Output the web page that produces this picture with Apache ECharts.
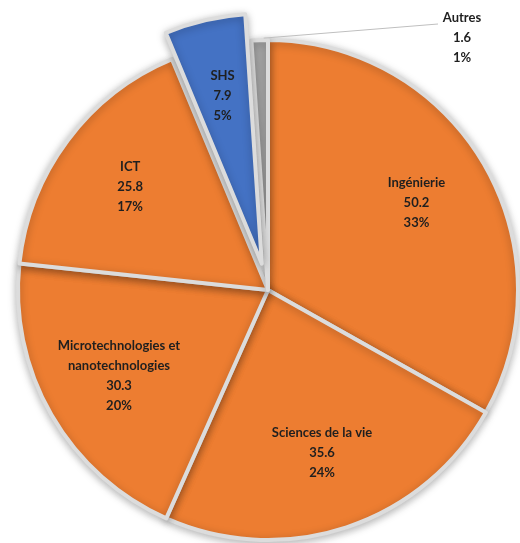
<!DOCTYPE html>
<html>
<head>
<meta charset="utf-8">
<script src="https://cdn.jsdelivr.net/npm/echarts@6/dist/echarts.min.js"></script>
<style>html,body{margin:0;padding:0;background:#fff}#pie{width:520px;height:543px}</style>
</head>
<body>
<div id="pie"></div>
<script>
/********************** données **********************/
var names = ['Ingénierie', 'Sciences de la vie', 'Microtechnologies et nanotechnologies', 'ICT', 'SHS', 'Autres'];
var values = [50.2, 35.6, 30.3, 25.8, 7.9, 1.6];
var exploded = ['SHS'];

var palette = {'SHS': '#4472C4', 'Autres': '#A5A5A5'};
var orange = '#ED7D31';

var pie = echarts.init(document.getElementById('pie'));

// secteurs visibles
function sliceData() {
    return names.map(function (n, i) {
        return {
            name: n,
            value: values[i],
            selected: exploded.indexOf(n) >= 0,
            itemStyle: {color: palette[n] || orange}
        };
    });
}

// couche transparente pour placer les étiquettes plus loin du centre
function labelData() {
    return names.map(function (n, i) {
        var o = {name: n, value: values[i], selected: exploded.indexOf(n) >= 0};
        if (n === 'Autres') o.label = {position: 'outside'};
        return o;
    });
}

function fmt(p) {
    return p.name.replace(' et ', ' et\n') + '\n' + p.value + '\n' + Math.round(p.percent) + '%';
}

var center = [268, 290];

pie.setOption({
    animation: false,
    series: [{
        type: 'pie',
        center: center,
        radius: [0, 250],
        startAngle: 90,
        selectedMode: 'multiple',
        selectedOffset: 27,
        silent: true,
        label: {show: false},
        labelLine: {show: false},
        itemStyle: {
            borderColor: '#DCDCDC', borderWidth: 4,
            shadowBlur: 8, shadowColor: 'rgba(0,0,0,0.28)', shadowOffsetY: 2
        },
        data: sliceData()
    }, {
        type: 'pie',
        center: center,
        radius: [88, 250],
        startAngle: 90,
        selectedMode: 'multiple',
        selectedOffset: 27,
        silent: true,
        z: 5,
        itemStyle: {color: 'rgba(0,0,0,0)'},
        label: {
            show: true, position: 'inside', formatter: fmt,
            fontFamily: 'Lato', fontWeight: 'bold', fontSize: 13, lineHeight: 20,
            color: '#1F1F1F', align: 'center'
        },
        labelLine: {show: true, length: 4, length2: 10, lineStyle: {color: '#BFBFBF', width: 1}},
        labelLayout: function (p) {
            if (p.dataIndex !== names.length - 1) return;
            var w = pie.getWidth();
            var s = p.labelLinePoints ? p.labelLinePoints[0] : [262, 38];
            return {
                x: w - 58, y: 38, align: 'center', verticalAlign: 'middle',
                labelLinePoints: [[s[0] + 4, s[1] - 2], [w - 82, 24]]
            };
        },
        data: labelData()
    }]
});
</script>
</body>
</html>
